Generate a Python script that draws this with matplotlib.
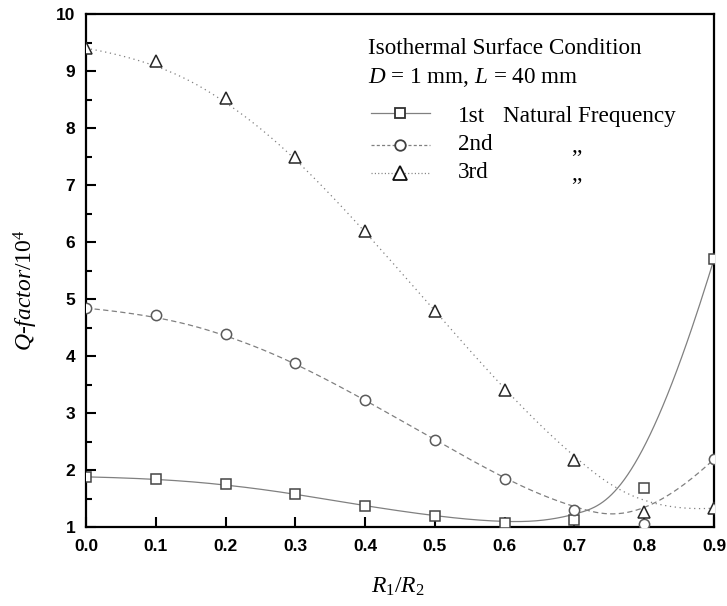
import numpy as np
import matplotlib
matplotlib.use("Agg")
import matplotlib.pyplot as plt

# Q-factor (in units of 10^4) versus radius ratio for the first three modes
ratio = [0.0, 0.1, 0.2, 0.3, 0.4, 0.5, 0.6, 0.7, 0.8, 0.9]
q_first = [1.88, 1.85, 1.75, 1.58, 1.37, 1.19, 1.07, 1.12, 1.69, 5.70]
q_second = [4.84, 4.72, 4.39, 3.88, 3.23, 2.53, 1.84, 1.30, 1.05, 2.19]
q_third = [9.40, 9.18, 8.52, 7.49, 6.19, 4.79, 3.40, 2.18, 1.26, 1.33]

x_ticks = [0.0, 0.1, 0.2, 0.3, 0.4, 0.5, 0.6, 0.7, 0.8, 0.9]
y_ticks = [1, 2, 3, 4, 5, 6, 7, 8, 9, 10]

plt.rcParams["mathtext.fontset"] = "custom"
plt.rcParams["mathtext.rm"] = "Liberation Serif"
plt.rcParams["mathtext.it"] = "Liberation Serif:italic"
plt.rcParams["lines.scale_dashes"] = False


def bspline(xs, ys, n=500, k=3):
    """Clamped uniform B-spline using the data points as control points."""
    P = np.column_stack([xs, ys]).astype(float)
    m = len(P)
    knots = np.concatenate([np.zeros(k), np.arange(m - k + 1), np.full(k, m - k)]).astype(float)
    t = np.linspace(0, m - k, n)
    N = np.zeros((n, len(knots) - 1))
    for i in range(len(knots) - 1):
        N[:, i] = (knots[i] <= t) & (t < knots[i + 1])
    N[-1, m - 1] = 1.0
    for p in range(1, k + 1):
        Nn = np.zeros((n, len(knots) - 1 - p))
        for i in range(len(knots) - 1 - p):
            a = knots[i + p] - knots[i]
            b = knots[i + p + 1] - knots[i + 1]
            term = np.zeros(n)
            if a > 0:
                term += (t - knots[i]) / a * N[:, i]
            if b > 0:
                term += (knots[i + p + 1] - t) / b * N[:, i + 1]
            Nn[:, i] = term
        N = Nn
    C = N @ P
    return C[:, 0], C[:, 1]


fig = plt.figure(figsize=(7.27, 6.06), dpi=100)
ax = fig.add_axes([86 / 727, 79 / 606, 628 / 727, 513 / 606])

line_col = "#808080"
series = [
    (q_first, "s", 6.8, "#454545", dict(linestyle="-")),
    (q_second, "o", 7.4, "#5a5a5a", dict(dashes=(3.8, 2.4))),
    (q_third, "^", 8.6, "#262626", dict(dashes=(0.9, 2.6))),
]

for ys, mk, ms, ec, ls in series:
    cx, cy = bspline(ratio, ys)
    ax.plot(cx, cy, color=line_col, lw=0.9, zorder=2, **ls)
    ax.plot(ratio, ys, linestyle="none", marker=mk, markersize=ms,
            markerfacecolor="white", markeredgecolor=ec, markeredgewidth=1.1, zorder=3)

ax.set_xlim(0.0, 0.9)
ax.set_ylim(1, 10)
ax.set_xticks(x_ticks)
ax.set_xticklabels([f"{v:.1f}" for v in x_ticks])
ax.set_yticks(y_ticks)
ax.set_yticks(np.arange(1.5, 10, 1.0), minor=True)

for s in ax.spines.values():
    s.set_linewidth(1.6)
    s.set_color("black")

ax.tick_params(axis="both", which="both", direction="in", top=False, right=False,
               width=1.5, color="black")
ax.tick_params(axis="both", which="major", length=7.2)
ax.tick_params(axis="y", which="minor", length=4.3)
ax.tick_params(axis="x", which="major", pad=8.4)
ax.tick_params(axis="y", which="major", pad=7.8)
for lab in ax.get_xticklabels() + ax.get_yticklabels():
    lab.set_fontfamily("Liberation Sans")
    lab.set_fontweight("bold")
    lab.set_fontsize(12.5)

# axis titles
fig.text(26 / 727, 1 - 290 / 606, r"$Q$-$factor$/10$^{4}$", rotation=90,
         ha="center", va="center", fontsize=17, family="Liberation Serif")
fig.text(398 / 727, 1 - 587 / 606, r"$R_{1}/R_{2}$", ha="center", va="center",
         fontsize=17, family="Liberation Serif")


def fx(px):
    return (px - 86) / 628


def fy(py):
    return (527 - py) / 513


serif = dict(family="Liberation Serif", fontsize=16.7, transform=ax.transAxes,
             va="baseline", ha="left")
ax.text(fx(368), fy(54), "Isothermal Surface Condition", **serif)
ax.text(fx(368), fy(83), r"$D$ = 1 mm, $L$ = 40 mm", **serif)

# key
key_rows = [
    (113, 122, "1st", "s", 7.2, "#303030", dict(linestyle="-")),
    (145, 150, "2nd", "o", 7.6, "#404040", dict(dashes=(2.2, 1.6))),
    (173, 178, "3rd", "^", 10.5, "#101010", dict(dashes=(0.8, 1.6))),
]
for ly, base, lab, mk, ms, ec, ls in key_rows:
    ax.plot([fx(371), fx(430)], [fy(ly), fy(ly)], transform=ax.transAxes,
            color=line_col, lw=0.9, clip_on=False, **ls)
    ax.plot([fx(400)], [fy(ly)], transform=ax.transAxes, linestyle="none",
            marker=mk, markersize=ms, markerfacecolor="white",
            markeredgecolor=ec, markeredgewidth=1.3, clip_on=False)
    ax.text(fx(458), fy(base), lab, **serif)
ax.text(fx(503), fy(122), "Natural Frequency", **serif)
ax.text(fx(571), fy(152), ",,", **serif)
ax.text(fx(571), fy(180), ",,", **serif)

fig.savefig("out.png", dpi=100)
